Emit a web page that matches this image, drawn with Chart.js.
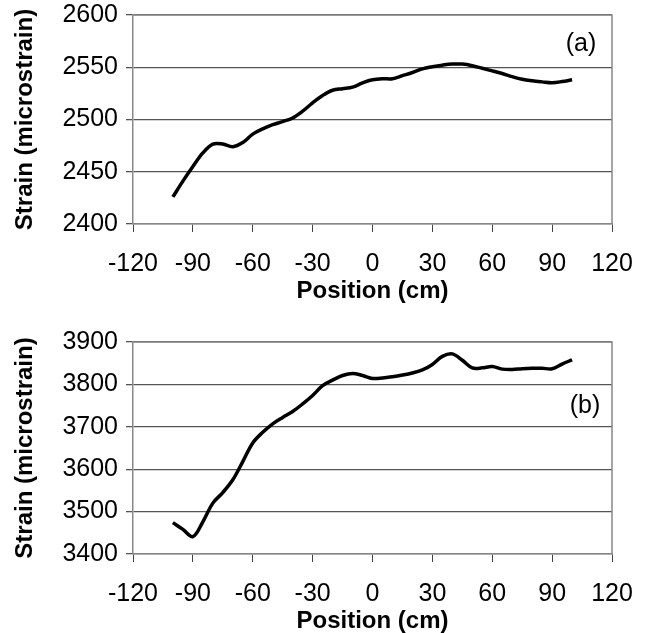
<!DOCTYPE html>
<html>
<head>
<meta charset="utf-8">
<script src="https://cdn.jsdelivr.net/npm/chart.js@4.4.1/dist/chart.umd.min.js"></script>
<style>
  html, body { margin: 0; padding: 0; background: #fff; width: 646px; height: 633px; overflow: hidden; }
  .wrap { position: absolute; left: 0; width: 646px; }
  #wa { top: 0; height: 316px; }
  #wb { top: 316px; height: 330px; }
</style>
</head>
<body>
<div class="wrap" id="wa"><canvas id="ca" width="646" height="316"></canvas></div>
<div class="wrap" id="wb"><canvas id="cb" width="646" height="330"></canvas></div>
<script>
// ---- data ----
const positions = [-100,-95,-90,-85,-80,-75,-70,-65,-60,-55,-50,-45,-40,-35,-30,-25,-20,-15,-10,-5,0,5,10,15,20,25,30,35,40,45,50,55,60,65,70,75,80,85,90,95,100];
const strainA = [2426,2441,2455,2468,2476.5,2476.5,2474,2478,2486,2491,2495,2498,2501.5,2508,2516,2523,2528,2529.5,2531,2535,2538,2539,2539,2542,2545,2548.5,2550.5,2552,2553,2553,2551.5,2549,2546.5,2544,2541,2538.5,2537,2536,2535.2,2536.3,2538];
const strainB = [3474,3458,3441,3476,3520,3545,3575,3618,3662,3687,3707,3722,3736,3754,3774,3797,3810,3821,3826,3821,3814,3815,3818,3822,3827,3834,3847,3866,3872,3857,3839,3839,3842,3836,3835,3837,3838,3838,3837,3848,3858];
const xTicks = [-120,-90,-60,-30,0,30,60,90,120];
const yTicksA = [2400,2450,2500,2550,2600];
const yTicksB = [3400,3500,3600,3700,3800,3900];
const xTitle = 'Position (cm)';
const yTitle = 'Strain (microstrain)';
const panelA = '(a)';
const panelB = '(b)';

const FONT = "'Liberation Sans', Arial, sans-serif";

const frame = {
  id: 'frame',
  afterDatasetsDraw(chart, args, opts) {
    const {ctx, chartArea: a, scales} = chart;
    ctx.save();
    ctx.strokeStyle = '#888';
    ctx.lineWidth = 1.5;
    ctx.beginPath();
    ctx.moveTo(a.left, a.top); ctx.lineTo(a.right, a.top); ctx.lineTo(a.right, a.bottom);
    ctx.stroke();
    ctx.fillStyle = '#000';
    ctx.font = '25px ' + FONT;
    ctx.textAlign = 'center';
    ctx.textBaseline = 'middle';
    ctx.fillText(opts.label, scales.x.getPixelForValue(opts.lx), scales.y.getPixelForValue(opts.ly));
    ctx.restore();
  }
};

function makeChart(id, values, yTicks, padTop, label, lx, ly) {
  const pts = positions.map((p, i) => ({x: p, y: values[i]}));
  return new Chart(document.getElementById(id), {
    type: 'line',
    data: { datasets: [{ data: pts, borderColor: '#000', borderWidth: 3.5, pointRadius: 0, tension: 0.35, fill: false }] },
    options: {
      responsive: false,
      animation: false,
      events: [],
      layout: { padding: { left: 0, right: 34, top: padTop, bottom: 0 } },
      plugins: { legend: { display: false }, tooltip: { enabled: false }, frame: { label, lx, ly } },
      scales: {
        x: {
          type: 'linear',
          min: xTicks[0], max: xTicks[xTicks.length - 1],
          afterBuildTicks: s => { s.ticks = xTicks.map(v => ({value: v})); },
          afterFit: s => { s.height = 92; s.paddingLeft = 0; s.paddingRight = 0; },
          border: { display: true, color: '#888', width: 1.5 },
          grid: { drawOnChartArea: false, drawTicks: true, tickLength: 8, color: '#666', tickColor: '#444' },
          ticks: { color: '#000', font: { family: FONT, size: 25 }, padding: 17, maxRotation: 0, autoSkip: false, callback: v => String(v) },
          title: { display: true, text: xTitle, color: '#000', font: { family: FONT, size: 24, weight: 'bold' }, padding: { top: 0, bottom: 10 } }
        },
        y: {
          type: 'linear',
          min: yTicks[0], max: yTicks[yTicks.length - 1],
          afterBuildTicks: s => { s.ticks = yTicks.map(v => ({value: v})); },
          afterFit: s => { s.width = 133; s.paddingTop = 0; s.paddingBottom = 0; },
          border: { display: true, color: '#888', width: 1.5 },
          grid: { color: '#555', lineWidth: 1.3, drawTicks: true, tickLength: 7, tickColor: '#555' },
          ticks: { color: '#000', font: { family: FONT, size: 25 }, padding: 8, callback: v => String(v) },
          title: { display: true, text: yTitle, color: '#000', font: { family: FONT, size: 24, weight: 'bold' }, padding: { top: 11, bottom: 0 } }
        }
      }
    },
    plugins: [frame]
  });
}

makeChart('ca', strainA, yTicksA, 15, panelA, 104.5, 2572.5);
makeChart('cb', strainB, yTicksB, 26, panelB, 106.5, 3748);
</script>
</body>
</html>
